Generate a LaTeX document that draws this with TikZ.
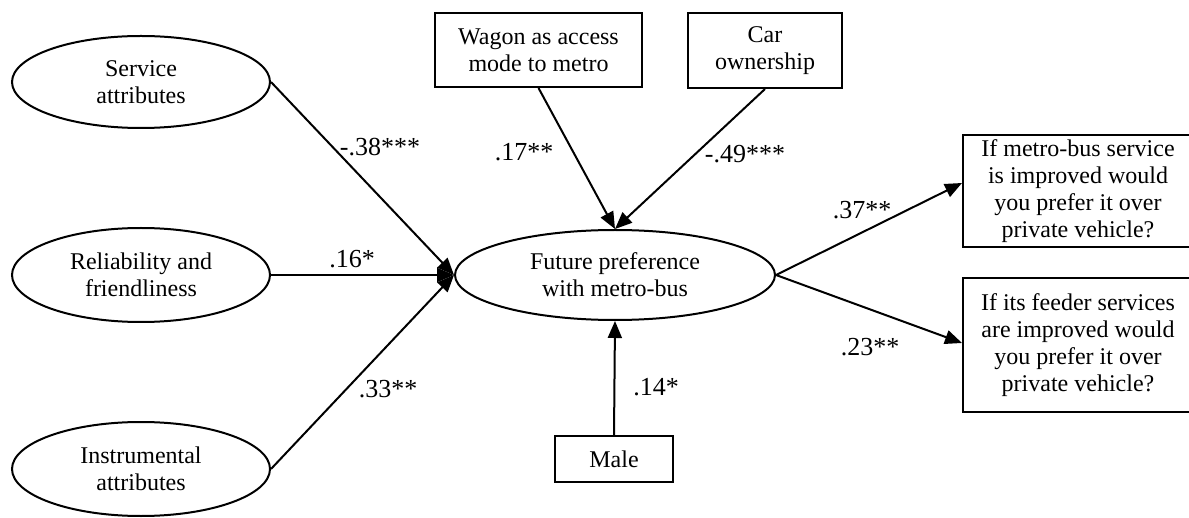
\documentclass[tikz,border=0pt]{standalone}
\usepackage{fontspec}
\setmainfont{Liberation Serif}
\usetikzlibrary{shapes.geometric,arrows.meta}

\tikzset{
    latent/.style={ellipse, draw, line width=1pt, inner sep=0pt, align=center},
    obs/.style={rectangle, draw, line width=1pt, inner sep=2pt, align=center},
    path/.style={line width=1pt, -{Triangle[length=8.5pt,width=7pt]}},
    coef/.style={inner sep=0pt, font=\fontsize{13}{15}\selectfont}
}

\begin{document}
\begin{tikzpicture}[x=0.5pt, y=-0.5pt, font=\fontsize{12}{13.6}\selectfont]
    \useasboundingbox (0,0) rectangle (1189,518);
    % latent factors
    \node[latent, minimum width=129pt, minimum height=46pt] (serv) at (141,82) {Service\\attributes};
    \node[latent, minimum width=129pt, minimum height=47pt] (rel) at (141,275) {Reliability and\\friendliness};
    \node[latent, minimum width=129pt, minimum height=47pt] (instr) at (141,469) {Instrumental\\attributes};
    \node[latent, minimum width=160pt, minimum height=45pt] (fut) at (615,275) {Future preference\\with metro-bus};
    % observed variables
    \node[obs, minimum width=103.5pt, minimum height=37pt] (wagon) at (538.5,50) {Wagon as access\\mode to metro};
    \node[obs, minimum width=77pt, minimum height=37.5pt] (car) at (765,50.5) {Car\\ownership};
    \node[obs, minimum width=59pt, minimum height=23pt] (male) at (614,459) {Male};
    \node[obs, minimum width=115pt, minimum height=53pt] (imp1) at (1078,191) {If metro-bus service\\is improved would\\you prefer it over\\private vehicle?};
    \node[obs, minimum width=115pt, minimum height=67pt] (imp2) at (1078,345) {If its feeder services\\are improved would\\you prefer it over\\private vehicle?};
    % paths
    \draw[path] (serv.east) -- (fut.west);
    \draw[path] (rel.east) -- (fut.west);
    \draw[path] (instr.east) -- (fut.west);
    \draw[path] (wagon.south) -- (fut.north);
    \draw[path] (car.south) -- (fut.north);
    \draw[path] (male.north) -- (fut.south);
    \draw[path] (fut.east) -- ([yshift=4pt]imp1.west);
    \draw[path] (fut.east) -- ([yshift=1pt]imp2.west);
    % coefficients
    \node[coef] (c1) at (380,147) {-.38***};
    \node[coef] (c2) at (352,259) {.16*};
    \node[coef] (c3) at (388,389) {.33**};
    \node[coef] (c4) at (524,152) {.17**};
    \node[coef] (c5) at (745,154) {-.49***};
    \node[coef] (c6) at (656,387) {.14*};
    \node[coef] (c7) at (862,210) {.37**};
    \node[coef] (c8) at (870,347) {.23**};
\end{tikzpicture}
\end{document}
